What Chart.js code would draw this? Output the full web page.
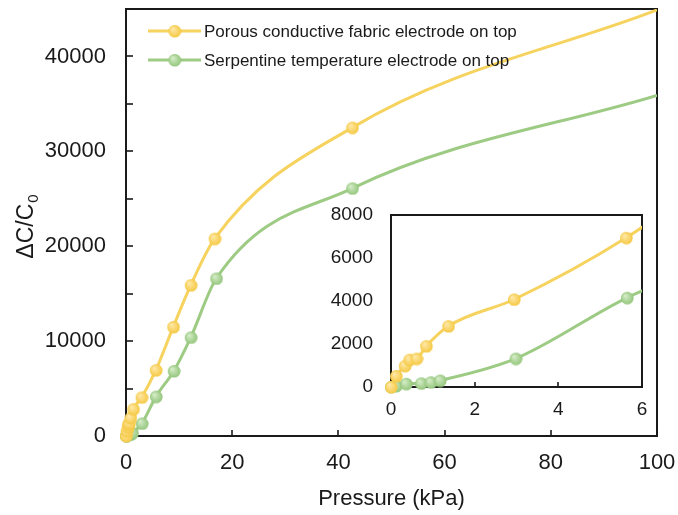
<!DOCTYPE html>
<html><head><meta charset="utf-8">
<script src="https://cdn.jsdelivr.net/npm/chart.js@4"></script>
<style>
html,body{margin:0;padding:0;background:#fff;}
#wrap{position:relative;width:678px;height:515px;overflow:hidden;}
#main{position:absolute;left:0;top:0;}
#inset{position:absolute;left:320px;top:200px;}
</style>
</head><body>
<div id="wrap"><canvas id="main" width="678" height="515"></canvas><canvas id="inset" width="340" height="230"></canvas></div>
<script>
// ---- data ----
const seriesNames = ['Porous conductive fabric electrode on top', 'Serpentine temperature electrode on top'];
const pressurePorous = [0, 0.12, 0.33, 0.44, 0.61, 0.84, 1.37, 2.94, 5.62, 8.9, 12.2, 16.7, 42.6, 100];
const dcPorous       = [0, 510, 980, 1270, 1320, 1900, 2830, 4070, 6940, 11500, 15900, 20800, 32500, 44900];
const pressureSerp   = [0, 0.12, 0.36, 0.72, 0.95, 1.17, 2.98, 5.64, 9.0, 12.2, 17.0, 42.6, 100];
const dcSerp         = [0, 50, 150, 170, 220, 300, 1320, 4150, 6850, 10400, 16600, 26100, 35900];
const mainXTickLabels = [0, 20, 40, 60, 80, 100];
const mainYTickLabels = [0, 10000, 20000, 30000, 40000];
const insetXTickLabels = [0, 2, 4, 6];
const insetYTickLabels = [0, 2000, 4000, 6000, 8000];
const xTitle = 'Pressure (kPa)';
const yTitleParts = ['ΔC/C', '0'];

const FONT = '"Liberation Sans", Arial, sans-serif';
const TXT = '#1a1a1a';
const colYellow = '#F6D25E', colGreen = '#9DCB84';

function ball(base, light, r){
  const cv = document.createElement('canvas');
  const s = 2*r + 2; cv.width = cv.height = s;
  const g = cv.getContext('2d');
  const gr = g.createRadialGradient(s/2 - r*0.35, s/2 - r*0.4, r*0.1, s/2, s/2, r);
  gr.addColorStop(0, light); gr.addColorStop(1, base);
  g.fillStyle = gr; g.beginPath(); g.arc(s/2, s/2, r, 0, Math.PI*2); g.fill();
  return cv;
}
const ballY = ball('#F5C944', '#FFE8A6', 6.3);
const ballG = ball('#94C67C', '#D4ECC6', 6.3);

function toXY(xs, ys){ return xs.map((x,i)=>({x:x, y:ys[i]})); }
function radii(xs){ return xs.map(x => x >= 100 ? 0 : 6); }

function makeDatasets(clip){
  return [
    {label: seriesNames[0], data: toXY(pressurePorous, dcPorous), borderColor: colYellow, backgroundColor: colYellow,
     borderWidth: 3, pointStyle: ballY, pointRadius: radii(pressurePorous), cubicInterpolationMode: 'monotone', clip: clip},
    {label: seriesNames[1], data: toXY(pressureSerp, dcSerp), borderColor: colGreen, backgroundColor: colGreen,
     borderWidth: 3, pointStyle: ballG, pointRadius: radii(pressureSerp), cubicInterpolationMode: 'monotone', clip: clip}
  ];
}

function noPad(s){ s.paddingTop = 0; s.paddingBottom = 0; s.paddingLeft = 0; s.paddingRight = 0; }

const frame = {
  id: 'frame',
  beforeDatasetsDraw(c, args, o){
    const ctx = c.ctx, a = c.chartArea;
    ctx.save();
    if (o.fill){ ctx.fillStyle = '#fff'; ctx.fillRect(a.left, a.top, a.right-a.left, a.bottom-a.top); }
    ctx.strokeStyle = TXT; ctx.lineWidth = 2;
    ctx.strokeRect(a.left, a.top, a.right-a.left, a.bottom-a.top);
    ctx.lineWidth = 1.6;
    if (o.xLen){
      c.scales.x.ticks.forEach(t => { const p = Math.round(c.scales.x.getPixelForValue(t.value));
        ctx.beginPath(); ctx.moveTo(p, a.bottom); ctx.lineTo(p, a.bottom - o.xLen); ctx.stroke(); });
    }
    if (o.yLen){
      c.scales.y.ticks.forEach(t => { const p = Math.round(c.scales.y.getPixelForValue(t.value));
        ctx.beginPath(); ctx.moveTo(a.left, p); ctx.lineTo(a.left + o.yLen, p); ctx.stroke(); });
    }
    ctx.restore();
  }
};

const decor = {
  id: 'decor',
  afterDraw(c){
    const ctx = c.ctx;
    ctx.save();
    // y title
    ctx.translate(33, 227); ctx.rotate(-Math.PI/2);
    ctx.fillStyle = TXT; ctx.textBaseline = 'alphabetic';
    ctx.font = '23px ' + FONT; const w1 = ctx.measureText(yTitleParts[0]).width;
    ctx.font = '15px ' + FONT; const w2 = ctx.measureText(yTitleParts[1]).width;
    const x0 = -(w1 + w2)/2;
    ctx.font = '23px ' + FONT; ctx.fillText(yTitleParts[0], x0, 0);
    ctx.font = '15px ' + FONT; ctx.fillText(yTitleParts[1], x0 + w1 + 1, 5);
    ctx.restore();
    // legend
    ctx.save();
    const rows = [31, 60], imgs = [ballY, ballG];
    c.data.datasets.forEach((ds, i) => {
      const y = rows[i];
      ctx.strokeStyle = ds.borderColor; ctx.lineWidth = 3;
      ctx.beginPath(); ctx.moveTo(148, y); ctx.lineTo(201, y); ctx.stroke();
      ctx.drawImage(imgs[i], 174.5 - imgs[i].width/2, y - imgs[i].height/2);
      ctx.fillStyle = TXT; ctx.font = '17px ' + FONT; ctx.textBaseline = 'middle'; ctx.textAlign = 'left';
      ctx.fillText(ds.label, 204, y + 1);
    });
    ctx.restore();
  }
};

new Chart(document.getElementById('main'), {
  type: 'line',
  data: { datasets: makeDatasets({left: 10, bottom: 10, right: 0, top: 0}) },
  options: {
    responsive: false, animation: false, devicePixelRatio: 1,
    layout: { padding: {top: 7, right: 21, left: 0, bottom: 0} },
    plugins: { legend: {display: false}, tooltip: {enabled: false}, frame: {xLen: 6, yLen: 7} },
    scales: {
      x: { type: 'linear', min: 0, max: 100,
        grid: {display: false, drawTicks: false}, border: {display: false},
        ticks: { stepSize: 20, maxRotation: 0, padding: 14, color: TXT, font: {family: FONT, size: 22},
          callback: v => mainXTickLabels.includes(v) ? String(v) : '' },
        title: { display: true, text: xTitle, color: TXT, font: {family: FONT, size: 22}, padding: {top: 0, bottom: 3} },
        afterFit: s => { s.height = 79; noPad(s); } },
      y: { type: 'linear', min: 0, max: 45000,
        grid: {display: false, drawTicks: false}, border: {display: false},
        ticks: { stepSize: 5000, padding: 20, color: TXT, font: {family: FONT, size: 22},
          callback: v => mainYTickLabels.includes(v) ? String(v) : '' },
        afterFit: s => { s.width = 126; noPad(s); } }
    }
  },
  plugins: [frame, decor]
});

new Chart(document.getElementById('inset'), {
  type: 'line',
  data: { datasets: makeDatasets({left: 10, bottom: 10, right: 0, top: 0}) },
  options: {
    responsive: false, animation: false, devicePixelRatio: 1,
    layout: { padding: {top: 15, right: 18, left: 0, bottom: 0} },
    plugins: { legend: {display: false}, tooltip: {enabled: false}, frame: {fill: true, xLen: 5, yLen: 0} },
    scales: {
      x: { type: 'linear', min: 0, max: 6,
        grid: {display: false, drawTicks: false}, border: {display: false},
        ticks: { stepSize: 2, maxRotation: 0, padding: 11, color: TXT, font: {family: FONT, size: 19},
          callback: v => insetXTickLabels.includes(v) ? String(v) : '' },
        afterFit: s => { s.height = 43; noPad(s); } },
      y: { type: 'linear', min: 0, max: 8000,
        grid: {display: false, drawTicks: false}, border: {display: false},
        ticks: { stepSize: 2000, padding: 18, color: TXT, font: {family: FONT, size: 19},
          callback: v => insetYTickLabels.includes(v) ? String(v) : '' },
        afterFit: s => { s.width = 71; noPad(s); } }
    }
  },
  plugins: [frame]
});
</script>
</body></html>
